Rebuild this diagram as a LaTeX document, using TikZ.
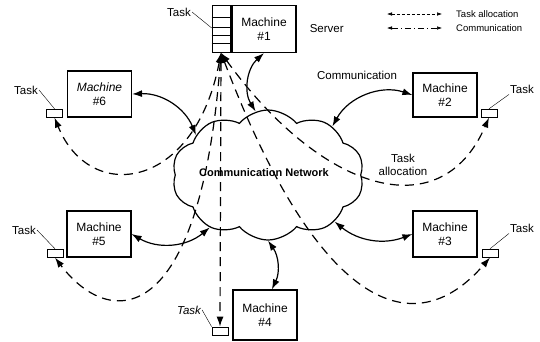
\documentclass[tikz,border=0pt]{standalone}
\usepackage{fontspec}
\setmainfont{Liberation Sans}
\usetikzlibrary{arrows.meta,positioning,shapes.symbols}
\tikzstyle{machine}=[
	rectangle,
	draw=black,
	line width=1.2pt,
	minimum width=64,
	minimum height=46,
	inner sep=0,
	align=center,
	font=\fontsize{12}{14.5}\selectfont]
\tikzstyle{taskbox}=[
	rectangle,
	draw=black,
	line width=0.8pt,
	minimum width=16,
	minimum height=8,
	inner sep=0]
\tikzstyle{lbl}=[
	inner sep=1,
	align=center,
	font=\fontsize{11.5}{13.5}\selectfont]
\tikzstyle{comm}=[
	{Latex[length=10,width=7]}-{Latex[length=10,width=7]},
	line width=1.2pt]
\tikzstyle{alloc}=[
	{Latex[length=10,width=7]}-{Latex[length=10,width=7]},
	line width=1.2pt,
	dash pattern=on 9pt off 6pt]
\tikzstyle{leader}=[line width=0.4pt]

\begin{document}
\begin{tikzpicture}[x=1pt,y=-1pt]
	\useasboundingbox (0,0) rectangle (540,341);
	% network
	\node[cloud,draw,line width=1.2pt,cloud puffs=10,cloud puff arc=100,aspect=1.5,
		minimum width=192,minimum height=130,inner sep=0]	(net)	at (268,175) {};
	\node[font=\bfseries\fontsize{11}{13}\selectfont]	(netlbl)	at (264,173) {Communication Network};
	% server and queue
	\node[rectangle,draw=black,line width=0.6pt,minimum width=18,minimum height=47,inner sep=0]	(queue)	at (221,29) {};
	\foreach \y in {17,27,35,43}
		\draw[line width=0.6pt] (queue.west |- 0,\y) -- (queue.east |- 0,\y);
	\node[machine,minimum height=47]	(m1)	at (264,29)	{Machine\\\#1};
	\node[lbl]	(server)	[right=12 of m1]	{Server};
	\node[lbl]	(tq)	at (179,12)	{Task};
	\draw[leader] (tq.east) -- (queue.west |- 0,28);
	% machines
	\node[machine]	(m6)	at (99.5,94)	{\itshape Machine\\\#6};
	\node[machine,minimum height=44]	(m2)	at (445,95)	{Machine\\\#2};
	\node[machine]	(m5)	at (99,234)	{Machine\\\#5};
	\node[machine]	(m3)	at (445,234)	{Machine\\\#3};
	\node[machine,minimum height=50]	(m4)	at (265,315)	{Machine\\\#4};
	% task boxes
	\node[taskbox]	(t6)	[left=4 of m6.south west,anchor=south east]	{};
	\node[taskbox]	(t2)	[right=3 of m2.south east,anchor=south west]	{};
	\node[taskbox]	(t5)	[left=3 of m5.south west,anchor=south east]	{};
	\node[taskbox]	(t3)	[right=4 of m3.south east,anchor=south west]	{};
	\node[taskbox]	(t4)	at (220,331)	{};
	\node[lbl]	(l6)	at (26,90)	{Task};
	\node[lbl]	(l2)	at (522,89)	{Task};
	\node[lbl]	(l5)	at (24,230)	{Task};
	\node[lbl]	(l3)	at (522,228)	{Task};
	\node[lbl]	(l4)	at (189,310)	{\itshape Task};
	\draw[leader] (l6.east) -- (t6.north);
	\draw[leader] (l2.south west) -- (t2.north);
	\draw[leader] (l5.east) -- (t5.north);
	\draw[leader] (l3.south west) -- (t3.north);
	\draw[leader] (l4.east) -- (t4.north west);
	% communication
	\draw[comm] (m1.south) to[bend right=40] (net.101);
	\draw[comm] (m6.east) to[bend left=35] (net.151);
	\draw[comm] (m2.west) to[bend right=40] (net.37);
	\draw[comm] (m5.east) to[bend right=35] (net.222);
	\draw[comm] (m3.west) to[bend left=30] (net.325);
	\draw[comm] (m4.75) to[bend right=30] (net.270);
	\node[lbl]	(lcomm)	at (357,75)	{Communication};
	% task allocation
	\draw[alloc] (queue.south) -- (t4.north);
	\draw[alloc] (queue.south) .. controls (195,190) and (90,205) .. (t6.south);
	\draw[alloc] (queue.south) .. controls (200,330) and (110,330) .. (t5.south);
	\draw[alloc] (queue.south) .. controls (320,190) and (440,230) .. (t2.south);
	\draw[alloc] (queue.south) .. controls (315,300) and (410,350) .. (t3.south);
	\node[lbl]	(lalloc)	at (403,165)	{Task\\allocation};
	% legend
	\coordinate (a1) at (387,14);
	\coordinate (a2) at (442,14);
	\coordinate (c1) at (387,28);
	\coordinate (c2) at (442,28);
	\draw[{Latex[length=5,width=3.5]}-{Latex[length=5,width=3.5]},line width=0.5pt,densely dashed] (a1) -- (a2);
	\draw[{Latex[length=5,width=3.5]}-{Latex[length=5,width=3.5]},line width=0.5pt,dash pattern=on 6pt off 3pt on 1pt off 3pt] (c1) -- (c2);
	\node[anchor=west,inner sep=0,font=\fontsize{9.5}{11}\selectfont]	(la)	[right=14 of a2]	{Task allocation};
	\node[anchor=west,inner sep=0,font=\fontsize{9.5}{11}\selectfont]	(lc)	[right=14 of c2]	{Communication};
\end{tikzpicture}
\end{document}
